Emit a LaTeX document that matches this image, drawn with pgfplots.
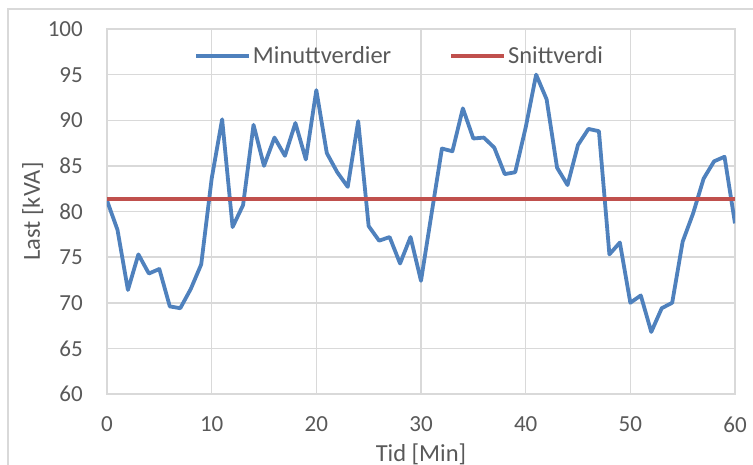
\documentclass[border=0pt]{standalone}
\usepackage{pgfplots}
\pgfplotsset{compat=1.18}
\usepackage{fontspec}
\setmainfont{Carlito}
\definecolor{xlBlue}{HTML}{4F81BD}
\definecolor{xlRed}{HTML}{C0504D}
\definecolor{xlGrid}{HTML}{D9D9D9}
\definecolor{xlText}{HTML}{595959}

\begin{document}
\begin{tikzpicture}
\path[use as bounding box] (-107bp,-71bp) rectangle (646bp,394bp);
\draw[xlGrid, line width=1.5bp] (-99bp,-90bp) |- (670bp,385bp);
\begin{axis}[
  at={(0,0)}, anchor=south west,
  scale only axis, width=628bp, height=365bp,
  xmin=0, xmax=60, ymin=60, ymax=100,
  xtick={0,10,...,60}, ytick={60,65,...,100},
  major tick length=0pt,
  grid=major,
  major grid style={xlGrid, line width=1.5bp},
  axis line style={xlGrid, line width=1.5bp},
  /pgf/number format/assume math mode=true,
  ticklabel style={font=\fontsize{23bp}{27bp}\selectfont, text=xlText, inner sep=0pt},
  xticklabel style={anchor=north, yshift=-22.5bp},
  yticklabel style={anchor=east, xshift=-24bp},
  xlabel={Tid [Min]}, ylabel={Last [kVA]},
  label style={font=\fontsize{24.5bp}{28bp}\selectfont, text=xlText, inner sep=0pt},
  xlabel style={at={(axis description cs:0.5,-0.1836)}, anchor=base},
  ylabel style={at={(axis description cs:-0.1067,0.5)}, anchor=base},
  legend columns=2,
  legend image code/.code={\draw[#1] (0bp,0bp) -- (53bp,0bp);},
  legend style={at={(axis description cs:0.1337,0.927)}, anchor=west,
    draw=none, fill=none, font=\fontsize{24.5bp}{28bp}\selectfont, text=xlText,
    nodes={inner sep=0pt}, column sep=2bp,
    /tikz/every even column/.append style={column sep=58bp}},
]
\addplot[xlBlue, line width=3.8bp, line join=round] coordinates {
(0,81.2) (1,78.0) (2,71.4) (3,75.3) (4,73.2) (5,73.7) (6,69.6) (7,69.4)
(8,71.5) (9,74.2) (10,83.6) (11,90.1) (12,78.3) (13,80.7) (14,89.5) (15,85.0)
(16,88.1) (17,86.1) (18,89.7) (19,85.7) (20,93.3) (21,86.4) (22,84.3) (23,82.7)
(24,89.9) (25,78.4) (26,76.8) (27,77.2) (28,74.3) (29,77.2) (30,72.4) (31,79.7)
(32,86.9) (33,86.6) (34,91.3) (35,88.0) (36,88.1) (37,87.0) (38,84.1) (39,84.3)
(40,89.2) (41,95.0) (42,92.3) (43,84.8) (44,82.9) (45,87.3) (46,89.05) (47,88.8)
(48,75.3) (49,76.6) (50,70.0) (51,70.8) (52,66.8) (53,69.4) (54,70.0) (55,76.7)
(56,79.8) (57,83.6) (58,85.5) (59,86.0) (60,78.7)
};
\addlegendentry{Minuttverdier}
\addplot[xlRed, line width=3.8bp] coordinates {(0,81.35) (60,81.35)};
\addlegendentry{Snittverdi}
\end{axis}
\end{tikzpicture}
\end{document}
